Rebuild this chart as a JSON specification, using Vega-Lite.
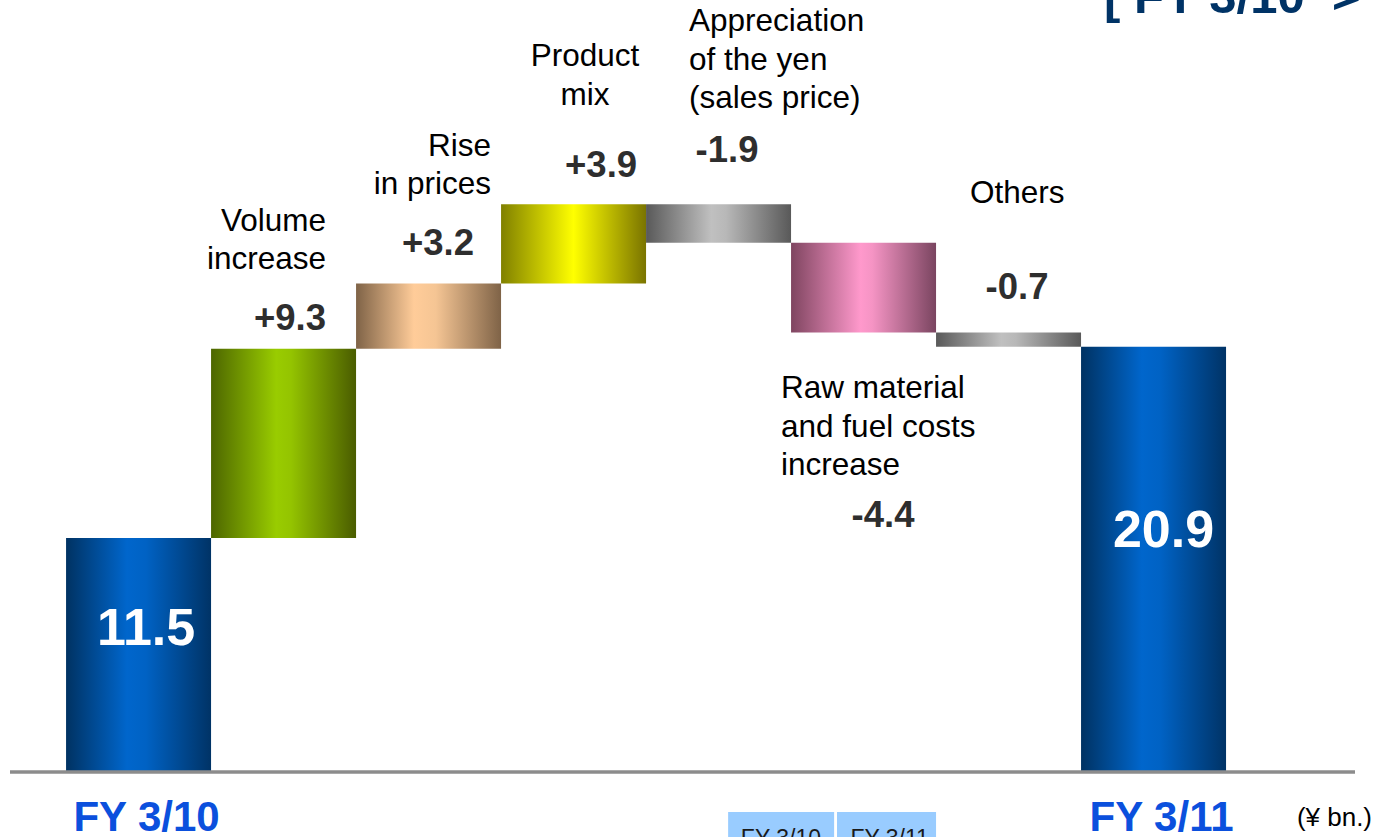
{
  "$schema": "https://vega.github.io/schema/vega-lite/v6.json",
  "width": 1345,
  "height": 752,
  "autosize": {"type": "none"},
  "padding": {"left": 10, "top": 20, "right": 33, "bottom": 65},
  "background": "white",
  "config": {"view": {"stroke": null}, "font": "Liberation Sans"},
  "data": {
    "values": [
      {"step": "FY 3/10", "start": 0, "end": 11.5, "grad": "blue", "value": "11.5", "lines": []},
      {"step": "Volume increase", "start": 11.5, "end": 20.8, "grad": "green", "value": "+9.3", "lines": ["Volume", "increase"]},
      {"step": "Rise in prices", "start": 20.8, "end": 24.0, "grad": "tan", "value": "+3.2", "lines": ["Rise", "in prices"]},
      {"step": "Product mix", "start": 24.0, "end": 27.9, "grad": "yellow", "value": "+3.9", "lines": ["Product", "mix"]},
      {"step": "Appreciation of the yen (sales price)", "start": 27.9, "end": 26.0, "grad": "gray", "value": "-1.9", "lines": ["Appreciation", "of the yen", "(sales price)"]},
      {"step": "Raw material and fuel costs increase", "start": 26.0, "end": 21.6, "grad": "pink", "value": "-4.4", "lines": ["Raw material", "and fuel costs", "increase"]},
      {"step": "Others", "start": 21.6, "end": 20.9, "grad": "gray", "value": "-0.7", "lines": ["Others"]},
      {"step": "FY 3/11", "start": 0, "end": 20.9, "grad": "blue", "value": "20.9", "lines": []}
    ]
  },
  "layer": [
    {
      "transform": [{"filter": "datum.grad === 'blue'"}],
      "mark": {"type": "bar", "color": {"gradient": "linear", "x1": 0, "y1": 0, "x2": 1, "y2": 0, "stops": [{"offset": 0, "color": "#003262"}, {"offset": 0.42, "color": "#0066cc"}, {"offset": 0.55, "color": "#0062c4"}, {"offset": 1, "color": "#003366"}]}},
      "encoding": {
        "x": {
          "field": "step",
          "type": "nominal",
          "scale": {
            "domain": ["FY 3/10", "Volume increase", "Rise in prices", "Product mix", "Appreciation of the yen (sales price)", "Raw material and fuel costs increase", "Others", "FY 3/11"],
            "paddingInner": 0,
            "paddingOuter": 0.638,
            "align": 0.303
          },
          "axis": null
        },
        "y": {"field": "start", "type": "quantitative", "scale": {"domain": [0, 36.95], "nice": false, "zero": false}, "axis": null},
        "y2": {"field": "end"}
      }
    },
    {
      "transform": [{"filter": "datum.grad === 'green'"}],
      "mark": {"type": "bar", "color": {"gradient": "linear", "x1": 0, "y1": 0, "x2": 1, "y2": 0, "stops": [{"offset": 0, "color": "#4d6600"}, {"offset": 0.45, "color": "#99cc00"}, {"offset": 0.55, "color": "#94c400"}, {"offset": 1, "color": "#4a5c00"}]}},
      "encoding": {"x": {"field": "step", "type": "nominal", "axis": null}, "y": {"field": "start", "type": "quantitative"}, "y2": {"field": "end"}}
    },
    {
      "transform": [{"filter": "datum.grad === 'tan'"}],
      "mark": {"type": "bar", "color": {"gradient": "linear", "x1": 0, "y1": 0, "x2": 1, "y2": 0, "stops": [{"offset": 0, "color": "#7f6347"}, {"offset": 0.4, "color": "#ffcc99"}, {"offset": 0.55, "color": "#f5c594"}, {"offset": 1, "color": "#7f6347"}]}},
      "encoding": {"x": {"field": "step", "type": "nominal", "axis": null}, "y": {"field": "start", "type": "quantitative"}, "y2": {"field": "end"}}
    },
    {
      "transform": [{"filter": "datum.grad === 'yellow'"}],
      "mark": {"type": "bar", "color": {"gradient": "linear", "x1": 0, "y1": 0, "x2": 1, "y2": 0, "stops": [{"offset": 0, "color": "#808000"}, {"offset": 0.5, "color": "#ffff00"}, {"offset": 1, "color": "#7a7400"}]}},
      "encoding": {"x": {"field": "step", "type": "nominal", "axis": null}, "y": {"field": "start", "type": "quantitative"}, "y2": {"field": "end"}}
    },
    {
      "transform": [{"filter": "datum.grad === 'gray'"}],
      "mark": {"type": "bar", "color": {"gradient": "linear", "x1": 0, "y1": 0, "x2": 1, "y2": 0, "stops": [{"offset": 0, "color": "#595959"}, {"offset": 0.45, "color": "#c0c0c0"}, {"offset": 0.55, "color": "#b8b8b8"}, {"offset": 1, "color": "#595959"}]}},
      "encoding": {"x": {"field": "step", "type": "nominal", "axis": null}, "y": {"field": "start", "type": "quantitative"}, "y2": {"field": "end"}}
    },
    {
      "transform": [{"filter": "datum.grad === 'pink'"}],
      "mark": {"type": "bar", "color": {"gradient": "linear", "x1": 0, "y1": 0, "x2": 1, "y2": 0, "stops": [{"offset": 0, "color": "#7f4560"}, {"offset": 0.48, "color": "#ff99cc"}, {"offset": 0.56, "color": "#f594c4"}, {"offset": 1, "color": "#7a4560"}]}},
      "encoding": {"x": {"field": "step", "type": "nominal", "axis": null}, "y": {"field": "start", "type": "quantitative"}, "y2": {"field": "end"}}
    },
    {
      "data": {"values": [{"line": "baseline"}]},
      "mark": {"type": "rule", "color": "#8c8c8c", "strokeWidth": 3.5},
      "encoding": {"y": {"datum": 0, "type": "quantitative"}}
    },
    {
      "transform": [{"filter": "datum.grad === 'blue'"}],
      "mark": {"type": "text", "font": "Liberation Sans", "fontSize": 42, "fontWeight": "bold", "color": "#0b50dd", "align": "center", "baseline": "middle", "dx": 8, "dy": 46},
      "encoding": {"x": {"field": "step", "type": "nominal", "axis": null}, "y": {"field": "start", "type": "quantitative"}, "text": {"field": "step"}}
    },
    {
      "data": {"values": [{"unit": "(¥ bn.)"}]},
      "mark": {"type": "text", "font": "Liberation Sans", "fontSize": 26, "color": "#000000", "align": "right", "baseline": "middle", "dx": 146, "dy": 46},
      "encoding": {
        "x": {"datum": "FY 3/11", "bandPosition": 1, "axis": null},
        "y": {"datum": 0, "type": "quantitative"},
        "text": {"field": "unit"}
      }
    },
    {
      "transform": [{"filter": "datum.step === 'Volume increase'"}],
      "mark": {"type": "text", "font": "Liberation Sans", "fontSize": 31.5, "lineHeight": 38.5, "color": "#000000", "align": "right", "baseline": "middle", "dx": -30, "dy": -126.7},
      "encoding": {"x": {"field": "step", "type": "nominal", "bandPosition": 1, "axis": null}, "y": {"field": "end", "type": "quantitative"}, "text": {"field": "lines"}}
    },
    {
      "transform": [{"filter": "datum.step === 'Rise in prices'"}],
      "mark": {"type": "text", "font": "Liberation Sans", "fontSize": 31.5, "lineHeight": 38.5, "color": "#000000", "align": "right", "baseline": "middle", "dx": -10, "dy": -136.6},
      "encoding": {"x": {"field": "step", "type": "nominal", "bandPosition": 1, "axis": null}, "y": {"field": "end", "type": "quantitative"}, "text": {"field": "lines"}}
    },
    {
      "transform": [{"filter": "datum.step === 'Product mix'"}],
      "mark": {"type": "text", "font": "Liberation Sans", "fontSize": 31.5, "lineHeight": 38.5, "color": "#000000", "align": "center", "baseline": "middle", "dx": 11.5, "dy": -147},
      "encoding": {"x": {"field": "step", "type": "nominal", "axis": null}, "y": {"field": "end", "type": "quantitative"}, "text": {"field": "lines"}}
    },
    {
      "transform": [{"filter": "datum.step === 'Appreciation of the yen (sales price)'"}],
      "mark": {"type": "text", "font": "Liberation Sans", "fontSize": 31.5, "lineHeight": 38.5, "color": "#000000", "align": "left", "baseline": "middle", "dx": 43, "dy": -182},
      "encoding": {"x": {"field": "step", "type": "nominal", "bandPosition": 0, "axis": null}, "y": {"field": "start", "type": "quantitative"}, "text": {"field": "lines"}}
    },
    {
      "transform": [{"filter": "datum.step === 'Raw material and fuel costs increase'"}],
      "mark": {"type": "text", "font": "Liberation Sans", "fontSize": 31.5, "lineHeight": 38.5, "color": "#000000", "align": "left", "baseline": "middle", "dx": -10, "dy": 56.6},
      "encoding": {"x": {"field": "step", "type": "nominal", "bandPosition": 0, "axis": null}, "y": {"field": "end", "type": "quantitative"}, "text": {"field": "lines"}}
    },
    {
      "transform": [{"filter": "datum.step === 'Others'"}],
      "mark": {"type": "text", "font": "Liberation Sans", "fontSize": 31.5, "lineHeight": 38.5, "color": "#000000", "align": "left", "baseline": "middle", "dx": 34, "dy": -138},
      "encoding": {"x": {"field": "step", "type": "nominal", "bandPosition": 0, "axis": null}, "y": {"field": "start", "type": "quantitative"}, "text": {"field": "lines"}}
    },
    {
      "transform": [{"filter": "datum.step === 'Volume increase'"}],
      "mark": {"type": "text", "font": "Liberation Sans", "fontSize": 36.5, "fontWeight": "bold", "color": "#2e2e2e", "align": "right", "baseline": "middle", "dx": -30, "dy": -30},
      "encoding": {"x": {"field": "step", "type": "nominal", "bandPosition": 1, "axis": null}, "y": {"field": "end", "type": "quantitative"}, "text": {"field": "value"}}
    },
    {
      "transform": [{"filter": "datum.step === 'Rise in prices'"}],
      "mark": {"type": "text", "font": "Liberation Sans", "fontSize": 36.5, "fontWeight": "bold", "color": "#2e2e2e", "align": "right", "baseline": "middle", "dx": -27, "dy": -40},
      "encoding": {"x": {"field": "step", "type": "nominal", "bandPosition": 1, "axis": null}, "y": {"field": "end", "type": "quantitative"}, "text": {"field": "value"}}
    },
    {
      "transform": [{"filter": "datum.step === 'Product mix'"}],
      "mark": {"type": "text", "font": "Liberation Sans", "fontSize": 36.5, "fontWeight": "bold", "color": "#2e2e2e", "align": "center", "baseline": "middle", "dx": 27.5, "dy": -38},
      "encoding": {"x": {"field": "step", "type": "nominal", "axis": null}, "y": {"field": "end", "type": "quantitative"}, "text": {"field": "value"}}
    },
    {
      "transform": [{"filter": "datum.step === 'Appreciation of the yen (sales price)'"}],
      "mark": {"type": "text", "font": "Liberation Sans", "fontSize": 36.5, "fontWeight": "bold", "color": "#2e2e2e", "align": "center", "baseline": "middle", "dx": 8.5, "dy": -53},
      "encoding": {"x": {"field": "step", "type": "nominal", "axis": null}, "y": {"field": "start", "type": "quantitative"}, "text": {"field": "value"}}
    },
    {
      "transform": [{"filter": "datum.step === 'Raw material and fuel costs increase'"}],
      "mark": {"type": "text", "font": "Liberation Sans", "fontSize": 36.5, "fontWeight": "bold", "color": "#2e2e2e", "align": "center", "baseline": "middle", "dx": 19.5, "dy": 184},
      "encoding": {"x": {"field": "step", "type": "nominal", "axis": null}, "y": {"field": "end", "type": "quantitative"}, "text": {"field": "value"}}
    },
    {
      "transform": [{"filter": "datum.step === 'Others'"}],
      "mark": {"type": "text", "font": "Liberation Sans", "fontSize": 36.5, "fontWeight": "bold", "color": "#2e2e2e", "align": "center", "baseline": "middle", "dx": 8.5, "dy": -44},
      "encoding": {"x": {"field": "step", "type": "nominal", "axis": null}, "y": {"field": "start", "type": "quantitative"}, "text": {"field": "value"}}
    },
    {
      "transform": [{"filter": "datum.step === 'FY 3/10'"}],
      "mark": {"type": "text", "font": "Liberation Sans", "fontSize": 52, "fontWeight": "bold", "color": "#ffffff", "align": "center", "baseline": "middle", "dx": 7.5, "dy": 91},
      "encoding": {"x": {"field": "step", "type": "nominal", "axis": null}, "y": {"field": "end", "type": "quantitative"}, "text": {"field": "value"}}
    },
    {
      "transform": [{"filter": "datum.step === 'FY 3/11'"}],
      "mark": {"type": "text", "font": "Liberation Sans", "fontSize": 52, "fontWeight": "bold", "color": "#ffffff", "align": "center", "baseline": "middle", "dx": 10, "dy": 184},
      "encoding": {"x": {"field": "step", "type": "nominal", "axis": null}, "y": {"field": "end", "type": "quantitative"}, "text": {"field": "value"}}
    },
    {
      "data": {"values": [{"heading": "[ FY 3/10\u00a0\u00a0>"}]},
      "mark": {"type": "text", "font": "Liberation Sans", "fontSize": 49, "fontWeight": "bold", "color": "#003366", "align": "left", "baseline": "alphabetic", "dx": -122},
      "encoding": {
        "x": {"datum": "FY 3/11", "bandPosition": 1, "axis": null},
        "y": {"datum": 37.3, "type": "quantitative"},
        "text": {"field": "heading"}
      }
    },
    {
      "data": {"values": [{"button": "FY 3/10"}]},
      "mark": {"type": "rect", "color": "#99ccff"},
      "encoding": {
        "x": {"datum": "Appreciation of the yen (sales price)", "bandPosition": 0.566, "axis": null},
        "x2": {"datum": "Raw material and fuel costs increase", "bandPosition": 0.297},
        "y": {"datum": -1.966, "type": "quantitative"},
        "y2": {"datum": -4}
      }
    },
    {
      "data": {"values": [{"button": "FY 3/11"}]},
      "mark": {"type": "rect", "color": "#99ccff"},
      "encoding": {
        "x": {"datum": "Raw material and fuel costs increase", "bandPosition": 0.317, "axis": null},
        "x2": {"datum": "Others", "bandPosition": 0},
        "y": {"datum": -1.966, "type": "quantitative"},
        "y2": {"datum": -4}
      }
    },
    {
      "data": {"values": [{"button": "FY 3/10"}]},
      "mark": {"type": "text", "font": "Liberation Sans", "fontSize": 23, "color": "#1a1a1a", "align": "center", "baseline": "alphabetic"},
      "encoding": {
        "x": {"datum": "Appreciation of the yen (sales price)", "bandPosition": 0.93, "axis": null},
        "y": {"datum": -3.66, "type": "quantitative"},
        "text": {"field": "button"}
      }
    },
    {
      "data": {"values": [{"button": "FY 3/11"}]},
      "mark": {"type": "text", "font": "Liberation Sans", "fontSize": 23, "color": "#1a1a1a", "align": "center", "baseline": "alphabetic"},
      "encoding": {
        "x": {"datum": "Raw material and fuel costs increase", "bandPosition": 0.68, "axis": null},
        "y": {"datum": -3.66, "type": "quantitative"},
        "text": {"field": "button"}
      }
    }
  ]
}
